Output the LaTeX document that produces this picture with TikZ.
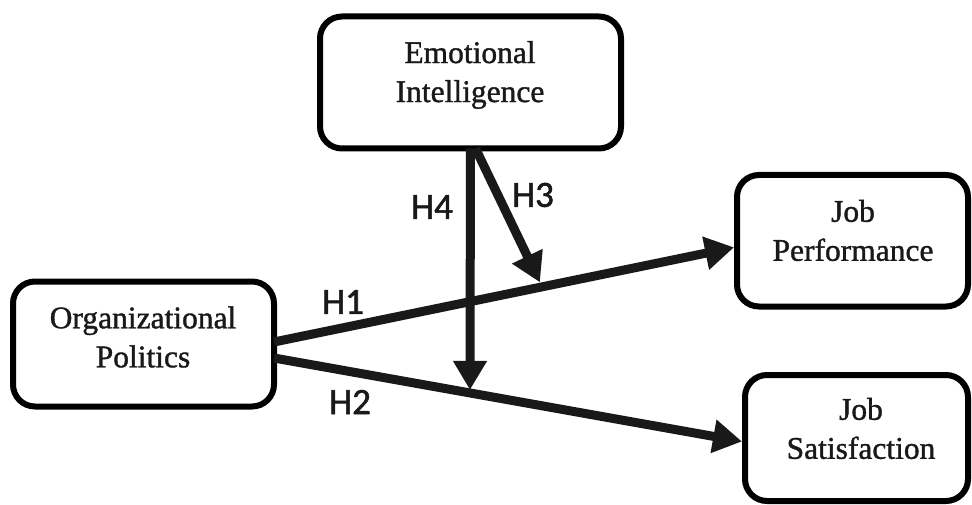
\documentclass[tikz,border=0pt]{standalone}
\usepackage{fontspec}
\setmainfont{Liberation Serif}
\newfontfamily\boxfont[FakeBold=1.2]{Liberation Serif}
\newfontfamily\labelfont[FakeBold=1.5]{Carlito}
\usetikzlibrary{arrows.meta}
\tikzset{
  box/.style={draw=black, line width=6pt, rounded corners=22pt, inner sep=0pt, outer sep=0pt},
  boxtext/.style={align=center, inner sep=0pt, font=\boxfont\fontsize{31.5}{39}\selectfont, text=black!90},
  arr/.style={draw=black!90, line width=9pt, -{Triangle[length=29pt,width=32pt]}},
  hlabel/.style={font=\labelfont\fontsize{37}{40}\selectfont, text=black!90, inner sep=0pt}
}
\begin{document}
\begin{tikzpicture}[x=1pt,y=-1pt]
\useasboundingbox (0,0) rectangle (972,505);
% boxes
\node[box, minimum width=301pt, minimum height=132pt] (ei) at (470.5,82.5) {};
\node[box, minimum width=231pt, minimum height=131.5pt] (jp) at (852.5,240.75) {};
\node[box, minimum width=261pt, minimum height=125pt] (op) at (143.5,344) {};
\node[box, minimum width=223pt, minimum height=126pt] (js) at (856.5,438) {};
% texts
\node[boxtext] (eit) at (470,75) {Emotional\\Intelligence};
\node[boxtext] (jpt) at (853,230.5) {Job\\Performance};
\node[boxtext] (opt) at (143,337) {Organizational\\Politics};
\node[boxtext] (jst) at (861,428.5) {Job\\Satisfaction};
% main paths
\draw[arr, shorten >=3pt] ([yshift=2pt]op.east) -- ([yshift=-6pt]jp.west)
  coordinate[pos=0.579] (m1);
\draw[arr, shorten >=3pt] ([yshift=-14pt]op.east) -- ([yshift=-4pt]js.west)
  coordinate[pos=0.416] (m2);
% moderating paths
\draw[arr, shorten >=3pt] (ei.south) -- (m2);
\draw[arr, shorten >=5pt] ([xshift=5pt]ei.south) -- (m1);
% labels
\node[hlabel] (h1) at (343,302) {H1};
\node[hlabel] (h2) at (350,402) {H2};
\node[hlabel] (h3) at (533,195) {H3};
\node[hlabel] (h4) at (432,207) {H4};
\end{tikzpicture}
\end{document}
